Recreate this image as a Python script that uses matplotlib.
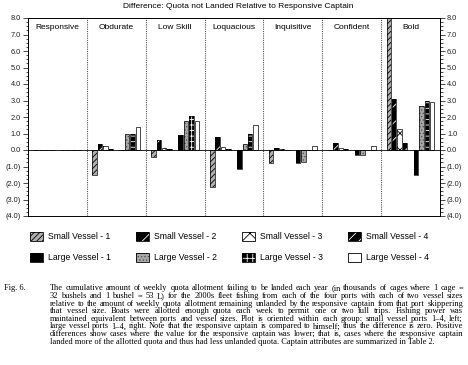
import numpy as np
import matplotlib
matplotlib.use("Agg")
import matplotlib.pyplot as plt
from matplotlib.patches import Patch
from matplotlib.ticker import MultipleLocator, FuncFormatter

# ----------------------------------------------------------------------------
# Data (thousands of cages, difference relative to responsive captain)
# ----------------------------------------------------------------------------

GROUPS = ["Responsive", "Obdurate", "Low Skill", "Loquacious",
          "Inquisitive", "Confident", "Bold"]
SERIES = ["Small Vessel - 1", "Small Vessel - 2", "Small Vessel - 3", "Small Vessel - 4",
          "Large Vessel - 1", "Large Vessel - 2", "Large Vessel - 3", "Large Vessel - 4"]

SMALL_1 = [0.0, -1.5, -0.45, -2.25, -0.8, 0.03, 8.0]
SMALL_2 = [0.0, 0.35, 0.6, 0.8, 0.12, 0.4, 3.1]
SMALL_3 = [0.0, 0.25, 0.15, 0.2, 0.05, 0.15, 1.3]
SMALL_4 = [0.0, 0.07, 0.05, 0.05, 0.03, 0.05, 0.4]
LARGE_1 = [0.0, 0.02, 0.9, -1.15, -0.8, -0.3, -1.5]
LARGE_2 = [0.0, 1.0, 1.75, 0.35, -0.72, -0.3, 2.65]
LARGE_3 = [0.0, 0.97, 2.05, 1.0, 0.0, 0.02, 2.95]
LARGE_4 = [0.0, 1.4, 1.75, 1.5, 0.25, 0.25, 2.9]

VALUES = [SMALL_1, SMALL_2, SMALL_3, SMALL_4, LARGE_1, LARGE_2, LARGE_3, LARGE_4]

TITLE = "Difference: Quota not Landed Relative to Responsive Captain"

CAPTION = [
    "The cumulative amount of weekly quota allotment failing to be landed each year (in thousands of cages where 1 cage =",
    "32 bushels and 1 bushel = 53 L) for the 2000s fleet fishing from each of the four ports with each of two vessel sizes",
    "relative to the amount of weekly quota allotment remaining unlanded by the responsive captain from that port skippering",
    "that vessel size. Boats were allotted enough quota each week to permit one or two full trips. Fishing power was",
    "maintained equivalent between ports and vessel sizes. Plot is oriented within each group: small vessel ports 1\u20134, left;",
    "large vessel ports 1\u20134, right. Note that the responsive captain is compared to himself; thus the difference is zero. Positive",
    "differences show cases where the value for the responsive captain was lower; that is, cases where the responsive captain",
    "landed more of the allotted quota and thus had less unlanded quota. Captain attributes are summarized in Table 2.",
]

# face colour, hatch colour, hatch pattern
STYLES = [
    ("#b0b0b0", "black", "//////"),
    ("black", "white", "//"),
    ("white", "black", "xx"),
    ("black", "white", "///"),
    ("black", "black", None),
    ("#a8a8a8", "#555555", "....."),
    ("black", "white", "+++"),
    ("white", "black", None),
]

# ----------------------------------------------------------------------------
# Figure
# ----------------------------------------------------------------------------

W, H = 468, 365
plt.rcParams.update({
    "font.family": ["Liberation Sans", "DejaVu Sans"],
    "hatch.linewidth": 0.6,
})

fig = plt.figure(figsize=(W / 100, H / 100), dpi=100)
ax = fig.add_axes([28 / W, 1 - 216 / H, (440 - 28) / W, (216 - 18) / H])

MARGIN = 0.085
SLOT = 0.092
xs = np.arange(len(GROUPS))

handles = []
for i, (vals, (face, hcol, hatch)) in enumerate(zip(VALUES, STYLES)):
    slot = i if i < 4 else i + 1
    pos = xs + MARGIN + slot * SLOT + SLOT / 2
    ax.bar(pos, vals, width=SLOT * 0.82, color=face, edgecolor=hcol,
           hatch=hatch, lw=0, zorder=2)
    ax.bar(pos, vals, width=SLOT * 0.82, fill=False, edgecolor="black",
           lw=0.5, zorder=3)
    handles.append((Patch(facecolor=face, edgecolor=hcol, hatch=hatch, lw=0),
                    Patch(fill=False, edgecolor="black", lw=0.6)))

ax.set_xlim(0, len(GROUPS))
ax.set_ylim(-4, 8)
ax.axhline(0, color="black", lw=0.6, zorder=4)
for b in range(1, len(GROUPS)):
    ax.axvline(b, color="#555555", lw=0.8, ls=(0, (1, 1)), zorder=1)

for g, name in enumerate(GROUPS):
    ax.text(g + 0.5, 0.95, name, transform=ax.get_xaxis_transform(),
            ha="center", va="center", fontsize=6)

ax.set_xticks([])
ax.yaxis.set_major_locator(MultipleLocator(1.0))
ax.yaxis.set_minor_locator(MultipleLocator(0.25))
ax.yaxis.set_major_formatter(
    FuncFormatter(lambda v, _: f"{v:.1f}" if v >= 0 else f"({-v:.1f})"))
ax.tick_params(axis="y", which="both", direction="out", left=True, right=True,
               labelleft=True, labelright=True, labelsize=5.3,
               labelcolor="#222222", width=0.5, pad=1.5)
ax.tick_params(axis="y", which="major", length=3.5)
ax.tick_params(axis="y", which="minor", length=1.8)
for sp in ax.spines.values():
    sp.set_linewidth(0.7)

fig.text(238 / W, 1 - 7 / H, TITLE, ha="center", va="center", fontsize=6)

# legend: rows = small / large, columns = port
order = [0, 4, 1, 5, 2, 6, 3, 7]
fig.legend([handles[k] for k in order], [SERIES[k] for k in order],
           ncol=4, loc="upper left", bbox_to_anchor=(30 / W, 1 - 232 / H),
           frameon=False, fontsize=6.2, handlelength=1.5, handleheight=1.15,
           handletextpad=0.6, columnspacing=2.9, labelspacing=1.4,
           borderpad=0, borderaxespad=0)

# ----------------------------------------------------------------------------
# Caption (justified)
# ----------------------------------------------------------------------------

renderer = fig.canvas.get_renderer()
SERIF = ["Liberation Serif", "DejaVu Serif"]


def width_px(s, size):
    t = fig.text(0, 0, s, fontsize=size, family=SERIF)
    w = t.get_window_extent(renderer).width
    t.remove()
    return w


X0, X1 = 50, 463
natural = max(width_px(line, 10) for line in CAPTION)
csize = 10 * (X1 - X0) * 0.985 / natural

fig.text(4 / W, 1 - 290.5 / H, "Fig. 6.", fontsize=csize, family=SERIF,
         va="baseline")
for k, line in enumerate(CAPTION):
    y = 1 - (290.5 + k * 7.6) / H
    if k == len(CAPTION) - 1:
        fig.text(X0 / W, y, line, fontsize=csize, family=SERIF, va="baseline")
        continue
    words = line.split(" ")
    widths = [width_px(w, csize) for w in words]
    gap = (X1 - X0 - sum(widths)) / (len(words) - 1)
    x = X0
    for w, wd in zip(words, widths):
        fig.text(x / W, y, w, fontsize=csize, family=SERIF, va="baseline")
        x += wd + gap

fig.savefig("out.png", dpi=100)
